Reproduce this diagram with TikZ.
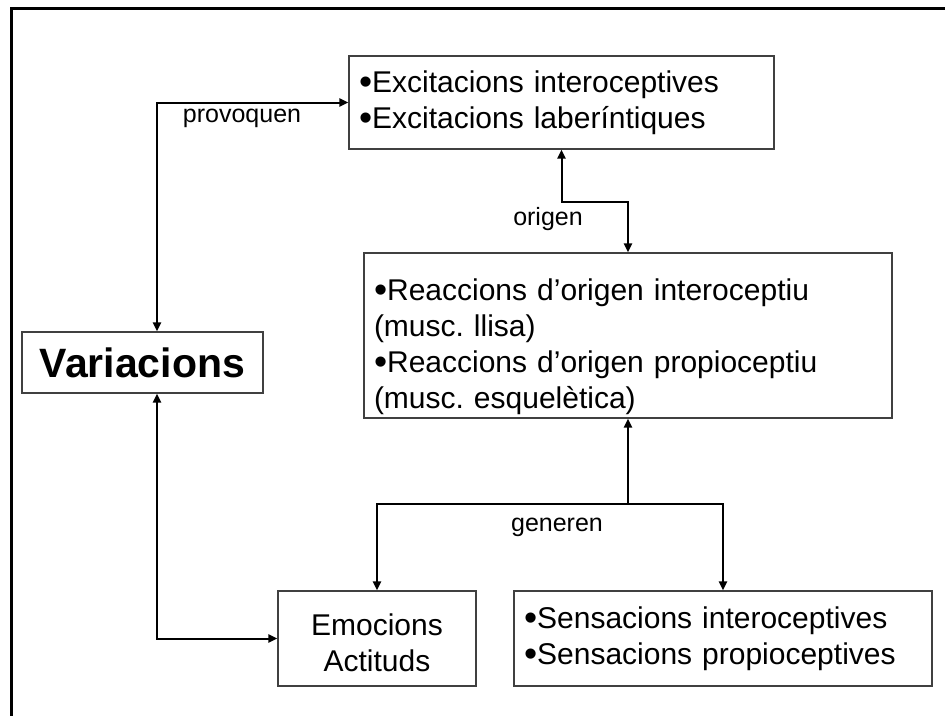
\documentclass[tikz,border=0pt]{standalone}
\usepackage{fontspec}
\setmainfont{Liberation Sans}
\usetikzlibrary{arrows.meta,calc}
\frenchspacing
% a slightly heavier list bullet, centred on the x-height
\newcommand\bul{\raisebox{-0.07em}{\scalebox{1.25}{•}}}
\begin{document}
\begin{tikzpicture}[x=1pt,y=-1pt,
  box/.style={draw=black!75, line width=1.2pt, inner xsep=10pt, inner ysep=0pt,
    font=\fontsize{30}{36}\selectfont, align=left},
  tip/.tip={Triangle[length=9pt,width=8pt]},
  conn/.style={line width=2pt, -tip},
  both/.style={line width=2pt, tip-tip},
  lbl/.style={font=\fontsize{25}{30}\selectfont, inner sep=0pt}]
  \useasboundingbox (0,0) rectangle (945,715);
  \clip (0,0) rectangle (945,715);
  % outer frame, open to the right and bottom
  \draw[line width=3pt] (11.5,900) -- (11.5,8.5) -- (1100,8.5);

  % boxes
  \node[box, text width=405pt, minimum height=93pt] (exc) at (561.5,102.5)
    {\bul Excitacions interoceptives\\\bul Excitacions laberíntiques};
  \node[box, text width=508pt, minimum height=165pt] (rea) at (628,335.5)
    {\rule{0pt}{44pt}\bul Reaccions d’origen interoceptiu\\(musc. llisa)\\\bul Reaccions d’origen propioceptiu\\(musc. esquelètica)};
  \node[box, minimum width=241pt, minimum height=61pt, align=center,
    font=\fontsize{41}{44}\selectfont\bfseries] (var) at (142.5,362.5) {Variacions};
  \node[box, minimum width=198pt, minimum height=95pt, align=center] (emo) at (377,638.5)
    {\rule{0pt}{30pt}Emocions\\Actituds};
  \node[box, text width=398pt, minimum height=95pt] (sen) at (723,638.5)
    {\bul Sensacions interoceptives\\\bul Sensacions propioceptives};

  % connectors
  \draw[both] ([xshift=14.5pt]var.north) |- (exc.west);
  \coordinate (m1) at (595,202);
  \draw[both] (exc.south) |- (m1) -| (rea.north);
  \coordinate (j) at (628,504);
  \draw[conn] (j) -- (rea.south);
  \draw[conn] (j) -| (emo.north);
  \draw[conn] (j) -| (sen.north);
  \draw[both] ([xshift=14.5pt]var.south) |- (emo.west);

  % connector labels
  \node[lbl] (lp) at (242,118) {provoquen};
  \node[lbl] (lo) at (548,219) {origen};
  \node[lbl] (lg) at (557,527) {generen};
\end{tikzpicture}
\end{document}
